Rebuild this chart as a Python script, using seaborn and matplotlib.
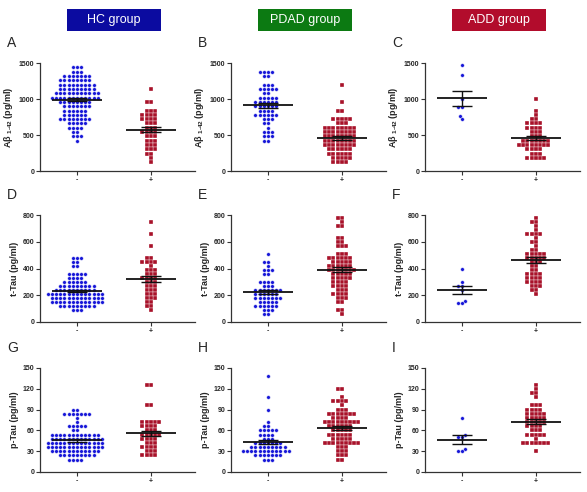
import numpy as np
import pandas as pd
import matplotlib
matplotlib.use('Agg')
import matplotlib.pyplot as plt
import seaborn as sns
from matplotlib.patches import Rectangle

# Abeta 1-42 (pg/ml)
hc_ab_neg = [1440, 1440, 1440, 1380, 1380, 1380,
             1320, 1320, 1320, 1320, 1320, 1320, 1320,
             1260, 1260, 1260, 1260, 1260, 1260, 1260, 1260,
             1200, 1200, 1200, 1200, 1200, 1200, 1200, 1200, 1200,
             1140, 1140, 1140, 1140, 1140, 1140, 1140, 1140, 1140,
             1080, 1080, 1080, 1080, 1080, 1080, 1080, 1080, 1080, 1080, 1080,
             1020, 1020, 1020, 1020, 1020, 1020, 1020, 1020, 1020, 1020, 1020, 1020,
             960, 960, 960, 960, 960, 960, 960, 960,
             900, 900, 900, 900, 900, 900, 900,
             840, 840, 840, 840, 840, 840,
             780, 780, 780, 780, 780, 780,
             720, 720, 720, 720, 720, 720, 720, 720,
             660, 660, 660, 660, 660, 600, 600, 600, 600,
             540, 540, 480, 480, 480, 420]
hc_ab_pos = [1140, 960, 960, 840, 840, 840, 780, 780, 780, 780,
             720, 720, 720, 720, 660, 660, 660, 600, 600, 600,
             540, 540, 540, 540, 480, 480, 480, 420, 420, 420,
             360, 360, 360, 300, 300, 300, 240, 240, 180, 120]
pdad_ab_neg = [1380, 1380, 1380, 1380, 1320, 1320, 1200, 1200, 1200,
               1140, 1140, 1140, 1140, 1140, 1080, 1080,
               1020, 1020, 1020, 1020, 1020, 960, 960, 960, 960, 960, 960,
               900, 900, 900, 900, 900, 900, 840, 840, 840, 840,
               780, 780, 780, 780, 780, 780, 720, 720, 720, 660, 660, 600,
               540, 540, 540, 480, 480, 480, 420, 420]
pdad_ab_pos = [1200, 960, 840, 840, 720, 720, 720, 720, 720, 660, 660, 660,
               600, 600, 600, 600, 600, 600, 600, 600,
               540, 540, 540, 540, 540, 540, 540, 540,
               480, 480, 480, 480, 480, 480, 480, 480,
               420, 420, 420, 420, 420, 420, 420, 420,
               360, 360, 360, 360, 360, 360, 360, 360,
               300, 300, 300, 300, 300, 300, 240, 240, 240, 240, 240, 240,
               180, 180, 180, 180, 180, 120, 120, 120, 120]
add_ab_neg = [1470, 1330, 1000, 890, 890, 770, 720]
add_ab_pos = [1000, 840, 780, 720, 720, 660, 660, 660, 660, 600, 600, 600, 600,
              540, 540, 540, 480, 480, 480, 420, 420, 420, 420, 420, 420, 420,
              360, 360, 360, 360, 360, 360, 360, 360, 300, 300, 300, 300,
              240, 240, 240, 180, 180, 180, 180, 180]

# t-Tau (pg/ml)
hc_tt_neg = [480, 480, 480, 450, 450, 420, 420, 360, 360, 360, 360, 360,
             330, 330, 330, 330, 300, 300, 300, 300, 300, 300,
             270, 270, 270, 270, 270, 270, 270, 270, 270,
             240, 240, 240, 240, 240, 240, 240, 240, 240, 240,
             210, 210, 210, 210, 210, 210, 210, 210, 210, 210, 210, 210, 210, 210,
             180, 180, 180, 180, 180, 180, 180, 180, 180, 180, 180, 180, 180,
             150, 150, 150, 150, 150, 150, 150, 150, 150, 150, 150, 150, 150,
             120, 120, 120, 120, 120, 120, 120, 120, 120, 90, 90, 90]
hc_tt_pos = [750, 660, 570, 480, 480, 450, 450, 450, 450, 420, 390, 390, 390,
             360, 360, 360, 330, 330, 330, 330, 300, 300, 300, 270, 270, 270,
             240, 240, 240, 210, 210, 210, 180, 180, 180, 150, 150, 120, 120, 90]
pdad_tt_neg = [510, 450, 450, 420, 390, 390, 390, 360, 360, 300, 300, 300, 300,
               270, 270, 270, 240, 240, 240, 240, 240, 240, 240,
               210, 210, 210, 210, 210, 210, 180, 180, 180, 180, 180, 180, 180,
               150, 150, 150, 150, 150, 120, 120, 120, 120, 120, 120, 90, 90, 90, 60, 60]
pdad_tt_pos = [780, 780, 750, 720, 720, 630, 630, 600, 600, 570, 570, 570,
               510, 510, 510, 480, 480, 480, 480, 480, 480, 450, 450, 450, 450, 450,
               420, 420, 420, 420, 420, 420, 390, 390, 390, 390, 390, 390, 390,
               360, 360, 360, 360, 360, 330, 330, 330, 330, 330, 300, 300, 300, 300,
               270, 270, 270, 270, 240, 240, 240, 210, 210, 210, 210,
               180, 180, 180, 150, 150, 90, 90, 60]
add_tt_neg = [400, 300, 270, 270, 240, 160, 140, 140]
add_tt_pos = [780, 750, 750, 720, 690, 660, 660, 660, 660, 630, 600, 600, 570, 540, 540,
              510, 510, 510, 510, 510, 480, 480, 480, 480, 480, 450, 450, 450, 420, 420,
              390, 390, 360, 360, 360, 360, 330, 330, 330, 330, 300, 300, 300, 300,
              270, 270, 270, 240, 240, 210]

# p-Tau (pg/ml)
hc_pt_neg = [90, 90, 84, 84, 84, 84, 84, 84, 84, 78, 72, 66, 66, 66, 66, 66, 60, 60,
             54, 54, 54, 54, 54, 54, 54, 54, 54, 54, 54, 54,
             48, 48, 48, 48, 48, 48, 48, 48, 48, 48, 48, 48, 48,
             42, 42, 42, 42, 42, 42, 42, 42, 42, 42, 42, 42, 42, 42,
             36, 36, 36, 36, 36, 36, 36, 36, 36, 36, 36, 36, 36, 36,
             30, 30, 30, 30, 30, 30, 30, 30, 30, 30, 30, 30,
             24, 24, 24, 24, 24, 24, 24, 24, 24, 18, 18, 18, 18]
hc_pt_pos = [126, 126, 96, 96, 72, 72, 72, 72, 72, 66, 66, 66, 66, 60, 60, 60,
             54, 54, 54, 54, 54, 48, 48, 48, 48, 42, 42, 42, 36, 36, 36, 36,
             30, 30, 30, 24, 24, 24, 24]
pdad_pt_neg = [138, 108, 90, 72, 66, 66, 60, 60, 60, 60, 60, 54, 54, 54, 54,
               48, 48, 48, 42, 42, 42, 42, 42, 42, 42,
               36, 36, 36, 36, 36, 36, 36, 36, 36,
               30, 30, 30, 30, 30, 30, 30, 30, 30, 30, 30, 30,
               24, 24, 24, 24, 24, 24, 24, 18, 18, 18]
pdad_pt_pos = [120, 120, 108, 102, 102, 102, 102, 96, 90, 90, 90,
               84, 84, 84, 84, 84, 84, 84, 78, 78, 78, 78,
               72, 72, 72, 72, 72, 72, 72, 72, 72, 66, 66, 66, 66, 66, 66,
               60, 60, 60, 60, 60, 54, 54, 54, 54, 54, 54, 48, 48, 48, 48, 48,
               42, 42, 42, 42, 42, 42, 42, 42, 42, 36, 36, 36, 30, 30, 30,
               24, 24, 24, 18, 18]
add_pt_neg = [78, 54, 51, 51, 33, 30, 30]
add_pt_pos = [126, 120, 114, 114, 108, 96, 96, 96, 90, 90, 90, 90,
              84, 84, 84, 84, 84, 78, 78, 78, 78, 78, 72, 72, 72, 72, 72,
              66, 66, 66, 66, 60, 60, 60, 54, 54, 54, 54, 54, 48,
              42, 42, 42, 42, 42, 42, 42, 30]

groups = ['HC group', 'PDAD group', 'ADD group']
group_colors = ['#0b0ba0', '#0c7a12', '#b20c2c']
status = ['-', '+']
letters = ['A', 'B', 'C', 'D', 'E', 'F', 'G', 'H', 'I']
ylabels = ['A\u03b2 $_{1\\text{-}42}$ (pg/ml)', 't-Tau (pg/ml)', 'p-Tau (pg/ml)']
yticks = [[0, 500, 1000, 1500], [0, 200, 400, 600, 800], [0, 30, 60, 90, 120, 150]]

panels = [
    [(hc_ab_neg, hc_ab_pos), (pdad_ab_neg, pdad_ab_pos), (add_ab_neg, add_ab_pos)],
    [(hc_tt_neg, hc_tt_pos), (pdad_tt_neg, pdad_tt_pos), (add_tt_neg, add_tt_pos)],
    [(hc_pt_neg, hc_pt_pos), (pdad_pt_neg, pdad_pt_pos), (add_pt_neg, add_pt_pos)],
]

sns.set_style('ticks')
plt.rcParams['font.family'] = ['Liberation Sans', 'DejaVu Sans']
plt.rcParams['mathtext.fontset'] = 'custom'
plt.rcParams['mathtext.rm'] = 'Liberation Sans:bold'
plt.rcParams['mathtext.it'] = 'Liberation Sans:bold'
plt.rcParams['mathtext.bf'] = 'Liberation Sans:bold'

W, H = 587, 492
fig = plt.figure(figsize=(W / 100, H / 100), dpi=100)

col_left = [40, 231, 425]
ax_w = 155
row_top = [63, 215, 368]
row_bot = [171, 322, 472]

blue = '#1818d8'
red = '#a8122a'
# white rim keeps a small gap between neighbouring dots, like the original
dot_kw = dict(size=2.62, linewidth=0.24, edgecolor='white', warn_thresh=1)

for r in range(3):
    for c in range(3):
        neg, pos = panels[r][c]
        ax = fig.add_axes([col_left[c] / W, 1 - row_bot[r] / H,
                           ax_w / W, (row_bot[r] - row_top[r]) / H])
        df = pd.DataFrame({'status': ['-'] * len(neg) + ['+'] * len(pos),
                           'value': list(neg) + list(pos)})
        sns.swarmplot(data=df[df['status'] == '-'], x='status', y='value', order=status,
                      color=blue, marker='o', ax=ax, **dot_kw)
        sns.swarmplot(data=df[df['status'] == '+'], x='status', y='value', order=status,
                      color=red, marker='s', ax=ax, **dot_kw)
        for i, s in enumerate(status):
            v = df.loc[df['status'] == s, 'value'].to_numpy(dtype=float)
            m = v.mean()
            sem = v.std(ddof=1) / np.sqrt(len(v))
            ax.hlines(m, i - 0.34, i + 0.34, color='#111111', lw=1.3, zorder=5)
            ax.errorbar(i, m, yerr=sem, color='#111111', lw=1.0, capsize=7, capthick=1.0,
                        zorder=5)
        ax.set_xlim(-0.5, 1.6)
        ax.set_ylim(0, yticks[r][-1])
        ax.set_yticks(yticks[r])
        ax.set_xlabel('')
        ax.set_ylabel(ylabels[r], fontsize=6.5, fontweight='bold', labelpad=3)
        sns.despine(ax=ax)
        for sp in ['left', 'bottom']:
            ax.spines[sp].set_linewidth(0.9)
            ax.spines[sp].set_color('#333333')
        ax.tick_params(axis='both', labelsize=5, length=3, width=0.8, pad=1,
                       color='#333333')
        for lab in ax.get_yticklabels() + ax.get_xticklabels():
            lab.set_fontweight('bold')
        fig.text((col_left[c] - 33) / W, 1 - (row_top[r] - 20) / H, letters[r * 3 + c],
                 fontsize=10, ha='left', va='center')

# group headers
for c in range(3):
    cx = col_left[c] + 74
    bw, bh = 94, 22
    fig.patches.append(Rectangle(((cx - bw / 2) / W, 1 - 31 / H), bw / W, bh / H,
                                 transform=fig.transFigure, facecolor=group_colors[c],
                                 edgecolor='none'))
    fig.text(cx / W, 1 - 20 / H, groups[c], color='white', fontsize=9,
             ha='center', va='center')

fig.savefig('out.png', dpi=100)
